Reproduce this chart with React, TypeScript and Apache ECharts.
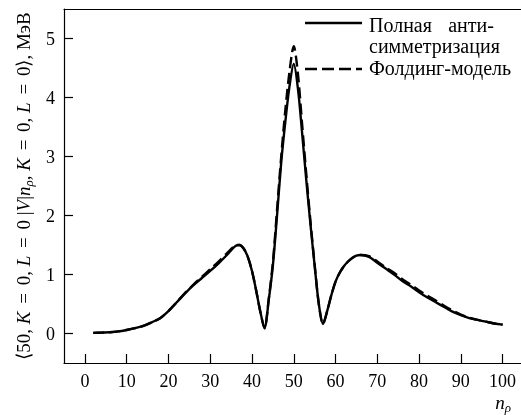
import React, { useEffect, useRef } from "react";
import * as echarts from "echarts";

// n_rho values where the matrix elements are given
const nSolid = [
  2, 4, 6, 8, 10, 12, 14, 16, 18, 20, 22, 24, 26, 28, 30, 32, 34, 36, 37, 38, 39,
  40, 41, 42, 43, 44, 45, 46, 47, 48, 49, 50, 51, 52, 53, 54, 55, 56, 57, 58, 59,
  60, 61, 62, 63, 64, 65, 66, 68, 70, 72, 74, 76, 78, 80, 82, 84, 86, 88, 90, 92,
  94, 96, 98, 100,
];
// Full antisymmetrization, MeV
const vSolid = [
  0.01, 0.015, 0.02, 0.035, 0.06, 0.09, 0.13, 0.19, 0.26, 0.38, 0.53, 0.68, 0.82,
  0.94, 1.06, 1.19, 1.33, 1.48, 1.5, 1.44, 1.3, 1.06, 0.73, 0.37, 0.09, 0.56,
  1.15, 2.0, 2.9, 3.6, 4.2, 4.57, 4.15, 3.4, 2.6, 1.85, 1.15, 0.5, 0.16, 0.38,
  0.65, 0.88, 1.03, 1.14, 1.22, 1.28, 1.32, 1.33, 1.3, 1.2, 1.1, 1.0, 0.89, 0.8,
  0.7, 0.61, 0.53, 0.45, 0.37, 0.31, 0.26, 0.23, 0.2, 0.17, 0.15,
];
// Folding model, MeV
const vDashed = [
  0.01, 0.015, 0.02, 0.035, 0.06, 0.09, 0.13, 0.19, 0.26, 0.38, 0.53, 0.69, 0.83,
  0.96, 1.09, 1.22, 1.36, 1.49, 1.5, 1.44, 1.3, 1.06, 0.73, 0.37, 0.09, 0.58,
  1.2, 2.1, 3.0, 3.8, 4.45, 4.87, 4.4, 3.55, 2.7, 1.9, 1.17, 0.5, 0.16, 0.38,
  0.65, 0.88, 1.03, 1.14, 1.22, 1.28, 1.32, 1.33, 1.31, 1.22, 1.12, 1.03, 0.92,
  0.83, 0.73, 0.64, 0.56, 0.47, 0.39, 0.32, 0.27, 0.23, 0.2, 0.17, 0.15,
];

const xTicks = [0, 10, 20, 30, 40, 50, 60, 70, 80, 90, 100];
const yTicks = [0, 1, 2, 3, 4, 5];
const legendWords = ["Полная", "анти-", "симметризация"];
const seriesNames = [legendWords.join(" "), "Фолдинг-модель"];

const FONT = "Liberation Serif";
const X_MIN = -5;
const X_MAX = 104.4;

export default function App() {
  const ref = useRef<HTMLDivElement>(null);

  useEffect(() => {
    if (!ref.current) return;
    const chart = echarts.init(ref.current, undefined, { renderer: "svg" });
    const solid = nSolid.map((n, i) => [n, vSolid[i]]);
    const dashed = nSolid.map((n, i) => [n, vDashed[i]]);
    const [name1, name2] = seriesNames;

    const txt = { fontFamily: FONT, fontSize: 20, fill: "#000" };
    const axisLine = { onZero: false, lineStyle: { color: "#000", width: 1.2 } };

    chart.setOption({
      animation: false,
      grid: { left: 64, top: 9, right: 0, bottom: 52 },
      xAxis: [
        {
          type: "value",
          min: X_MIN,
          max: X_MAX,
          splitLine: { show: false },
          axisLine,
          axisTick: {
            inside: true,
            length: 9,
            customValues: xTicks,
            lineStyle: { color: "#000", width: 1.2 },
          },
          axisLabel: {
            customValues: xTicks,
            margin: 9,
            color: "#000",
            fontFamily: FONT,
            fontSize: 18,
          },
        },
        {
          // top frame line
          type: "value",
          position: "top",
          min: X_MIN,
          max: X_MAX,
          splitLine: { show: false },
          axisLine,
          axisTick: { show: false },
          axisLabel: { show: false },
        },
      ],
      yAxis: {
        type: "value",
        min: -0.5,
        max: 5.5,
        splitLine: { show: false },
        axisLine,
        axisTick: {
          inside: true,
          length: 9,
          customValues: yTicks,
          lineStyle: { color: "#000", width: 1.2 },
        },
        axisLabel: {
          customValues: yTicks,
          margin: 9,
          color: "#000",
          fontFamily: FONT,
          fontSize: 18,
        },
      },
      series: [
        {
          name: name2,
          type: "line",
          data: dashed,
          showSymbol: false,
          smooth: 0.3,
          lineStyle: { color: "#000", width: 2.4, type: [11, 5] },
        },
        {
          name: name1,
          type: "line",
          data: solid,
          showSymbol: false,
          smooth: 0.3,
          lineStyle: { color: "#000", width: 2.4 },
        },
      ],
      graphic: [
        // legend
        {
          type: "line",
          shape: { x1: 305, y1: 23, x2: 362, y2: 23 },
          style: { stroke: "#000", lineWidth: 2.4 },
        },
        {
          type: "text",
          x: 369,
          y: 24.5,
          style: { ...txt, text: legendWords[0], verticalAlign: "middle" },
        },
        {
          type: "text",
          x: 471,
          y: 24.5,
          style: { ...txt, text: legendWords[1], align: "center", verticalAlign: "middle" },
        },
        {
          type: "text",
          x: 369,
          y: 46,
          style: { ...txt, text: legendWords[2], verticalAlign: "middle" },
        },
        {
          type: "line",
          shape: { x1: 305, y1: 69, x2: 362, y2: 69 },
          style: { stroke: "#000", lineWidth: 2.4, lineDash: [12, 5] },
        },
        {
          type: "text",
          x: 369,
          y: 68,
          style: { ...txt, text: name2, verticalAlign: "middle" },
        },
        // y axis title
        {
          type: "text",
          x: 23,
          y: 186,
          rotation: Math.PI / 2,
          style: {
            ...txt,
            align: "center",
            verticalAlign: "middle",
            text:
              "{n|⟨50, }{i|K}{e| = }{n|0, }{i|L}{e| = }{n|0 |}{i|V}{n||}{i|n}{s|ρ}{n|, }{i|K}{e| = }{n|0, }{i|L}{e| = }{n|0⟩, МэВ}",
            rich: {
              n: { fontFamily: FONT, fontSize: 19, lineHeight: 24, verticalAlign: "middle" },
              e: { fontFamily: FONT, fontSize: 19, lineHeight: 24, verticalAlign: "middle", padding: [0, 3, 0, 3] },
              i: { fontFamily: FONT, fontSize: 19, fontStyle: "italic", lineHeight: 24, verticalAlign: "middle" },
              s: { fontFamily: FONT, fontSize: 13, fontStyle: "italic", lineHeight: 13, verticalAlign: "bottom" },
            },
          },
        },
        // x axis title
        {
          type: "text",
          x: 503,
          y: 402,
          style: {
            ...txt,
            align: "center",
            verticalAlign: "middle",
            text: "{i|n}{s|ρ}",
            rich: {
              i: { fontFamily: FONT, fontSize: 19, fontStyle: "italic", lineHeight: 24, verticalAlign: "middle" },
              s: { fontFamily: FONT, fontSize: 13, fontStyle: "italic", lineHeight: 13, verticalAlign: "bottom" },
            },
          },
        },
      ],
    });
    return () => chart.dispose();
  }, []);

  return (
    <div
      ref={ref}
      style={{ position: "fixed", left: 0, top: 0, width: 521, height: 415 }}
    />
  );
}
